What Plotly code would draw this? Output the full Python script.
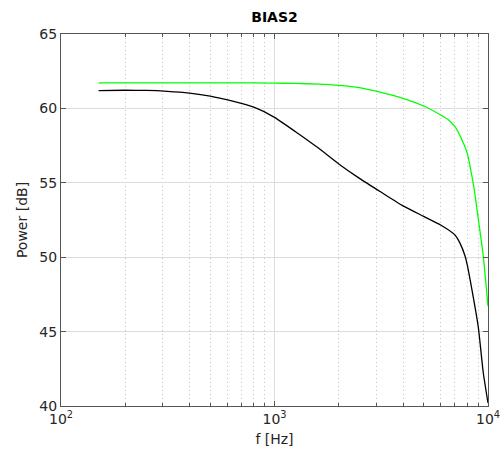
import plotly.graph_objects as go

freq_black = [150, 200, 250, 315, 400, 500, 630, 800, 1000, 1250, 1600, 2000, 2500, 3150,
              4000, 5000, 6000, 7000, 7400, 7800, 8000, 8400, 9000, 9500, 10000]
power_black = [61.2, 61.22, 61.21, 61.15, 61.03, 60.83, 60.5, 60.08, 59.4, 58.45, 57.35, 56.27,
               55.3, 54.38, 53.45, 52.74, 52.16, 51.49, 50.93, 50.1, 49.47, 47.85, 45.33, 42.25, 40.2]

freq_green = [150, 250, 400, 630, 1000, 1250, 1600, 2000, 2500, 3150, 4000, 5000, 6000, 6500,
              7000, 7500, 8000, 8300, 8600, 9000, 9500, 10000]
power_green = [61.72, 61.72, 61.72, 61.72, 61.7, 61.68, 61.63, 61.55, 61.4, 61.08, 60.68, 60.16,
               59.56, 59.25, 58.77, 57.98, 56.98, 55.87, 54.65, 52.6, 50.1, 46.7]

x_tickvals = [100, 1000, 10000]
x_ticktext = ["10<sup>2</sup>", "10<sup>3</sup>", "10<sup>4</sup>"]
x_minor = [200, 300, 400, 500, 600, 700, 800, 900, 2000, 3000, 4000, 5000, 6000, 7000, 8000, 9000]
y_tickvals = [40, 45, 50, 55, 60, 65]

fig = go.Figure()
fig.add_trace(go.Scatter(x=freq_green, y=power_green, mode="lines",
                         line=dict(color="#00ff00", width=1.3, shape="spline", smoothing=0.5)))
fig.add_trace(go.Scatter(x=freq_black, y=power_black, mode="lines",
                         line=dict(color="#000000", width=1.3, shape="spline", smoothing=0.5)))

font = dict(family="DejaVu Sans", size=14, color="#262626")
fig.update_layout(
    width=503, height=459,
    margin=dict(l=61, r=15, t=34, b=53, autoexpand=False),
    paper_bgcolor="white", plot_bgcolor="white",
    showlegend=False,
    font=font,
    title=dict(text="<b>BIAS2</b>", x=0.5, xref="paper", xanchor="center",
               y=1 - 17 / 459, yanchor="middle", font=dict(family="DejaVu Sans", size=14, color="black")),
)
fig.update_xaxes(
    type="log", range=[2, 4], automargin=False,
    tickvals=x_tickvals, ticktext=x_ticktext,
    ticks="inside", ticklen=5, tickcolor="#555", mirror="allticks",
    showline=True, linecolor="#555", linewidth=1,
    showgrid=True, gridcolor="#dcdcdc", gridwidth=1,
    zeroline=False,
    minor=dict(tickvals=x_minor, ticks="inside", ticklen=3, tickcolor="#555",
               showgrid=True, gridcolor="#c4c4c4", griddash="1px,3px", gridwidth=1),
    title=dict(text="f [Hz]", font=font, standoff=8),
    tickfont=font,
)
fig.update_yaxes(
    range=[40, 65], tickvals=y_tickvals, automargin=False,
    ticks="inside", ticklen=5, tickcolor="#555", mirror="allticks",
    showline=True, linecolor="#555", linewidth=1,
    showgrid=True, gridcolor="#dcdcdc", gridwidth=1,
    zeroline=False,
    title=dict(text="Power [dB]", font=font, standoff=8),
    tickfont=font,
)

fig.write_html("out.html")
